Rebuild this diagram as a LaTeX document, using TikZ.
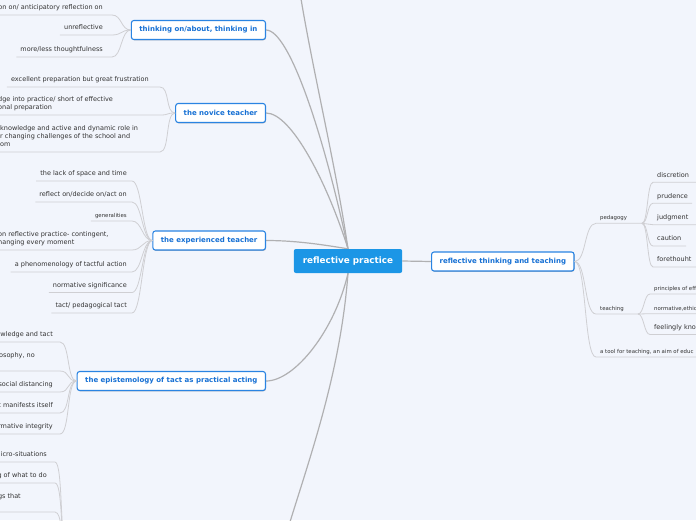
\documentclass[tikz,border=0pt]{standalone}
\usepackage{fontspec}
\setmainfont{DejaVu Sans}
\usetikzlibrary{shadows}
\definecolor{bgc}{HTML}{F2F5FC}
\definecolor{mainblue}{HTML}{1C96E6}
\definecolor{boxblue}{HTML}{2A84E2}
\definecolor{boxtext}{HTML}{1670D4}
\definecolor{leaftext}{HTML}{333333}
\definecolor{leafline}{HTML}{CFCFD3}
\definecolor{mainline}{HTML}{B0B0B2}
\pgfdeclarelayer{back}
\pgfdeclarelayer{lines}
\pgfsetlayers{back,lines,main}
\begin{document}
\begin{tikzpicture}[x=1pt,y=-1pt,
  central/.style={fill=mainblue, text=white, font=\fontsize{8.8}{10}\selectfont\bfseries, rounded corners=2pt, minimum height=24pt, inner xsep=9pt, inner ysep=0pt},
  topic/.style={draw=boxblue, line width=1.1pt, fill=white, text=boxtext, font=\fontsize{7}{8}\selectfont\bfseries, rounded corners=2.5pt, minimum height=19pt, inner xsep=8pt, inner ysep=0pt, drop shadow={shadow xshift=0.5pt, shadow yshift=-0.8pt, opacity=0.25, fill=black}},
  leaf/.style={text=leaftext, font=\fontsize{6.5}{8}\selectfont, inner sep=0pt, text depth=5pt},
  leafs/.style={text=leaftext, font=\fontsize{5.4}{6.5}\selectfont, inner sep=0pt, text depth=3.5pt},
  ml/.style={align=left},
  uline/.style={draw=leafline, line width=0.8pt},
  mline/.style={draw=mainline, line width=1.2pt},
]
\useasboundingbox (0,0) rectangle (696,520);
\clip (0,0) rectangle (696,520);
\begin{pgfonlayer}{back}
\fill[bgc] (0,0) rectangle (696,520);
\end{pgfonlayer}

% central and topics
\node[central] (c) at (348,261) {reflective practice};
\node[topic, anchor=east] (t1) at (266,30) {thinking on/about, thinking in};
\node[topic, anchor=east] (t2) at (266,113) {the novice teacher};
\node[topic, anchor=east] (t3) at (266,240.5) {the experienced teacher};
\node[topic, anchor=east] (t4) at (266,381) {the epistemology of tact as practical acting};
\node[topic, anchor=west] (t5) at (431,261.5) {reflective thinking and teaching};
\coordinate (offtop) at (298,-20);
\coordinate (offbot) at (283,545);

\begin{pgfonlayer}{lines}
\draw[mline] (t1.east) .. controls (290,30) and (325,140) .. (c.north);
\draw[mline] (t2.east) .. controls (292,113) and (328,185) .. (c.north);
\draw[mline] (t3.east) .. controls (300,240.5) and (330,246) .. (c.north);
\draw[mline] (t4.east) .. controls (295,381) and (335,330) .. (c.south);
\draw[mline] (c.north) .. controls (335,160) and (310,60) .. (offtop);
\draw[mline] (c.south) .. controls (340,380) and (305,470) .. (offbot);
\draw[mline] (c.east) -- (t5.west);
\end{pgfonlayer}

% group 1
\coordinate (g1) at (112,0);
\node[leaf, anchor=south east] (a1) at (103,15) {on on/ anticipatory reflection on};
\node[leaf, anchor=south east] (a2) at (103,35) {unreflective};
\node[leaf, anchor=south east] (a3) at (103,57) {more/less thoughtfulness};
\foreach \n in {a1,a2,a3}
  \draw[uline] ([xshift=-4pt]\n.south west) -- (\n.south west -| g1) .. controls +(10,0) and +(-10,0) .. (t1.west);

% group 2
\coordinate (g2) at (160,0);
\node[leaf, anchor=south east] (b1) at (149,87) {excellent preparation but great frustration};
\node[leaf, ml, anchor=south west] (b2) at (-2,115) {dge into practice/ short of effective\\onal preparation};
\node[leaf, ml, anchor=south west] (b3) at (0,152) {knowledge and active and dynamic role in\\r changing challenges of the school and\\om};
\foreach \n in {b1,b2,b3}
  \draw[uline] ([xshift=-4pt]\n.south west) -- (\n.south west -| g2) .. controls +(10,0) and +(-10,0) .. (t2.west);

% group 3
\coordinate (g3) at (132,0);
\node[leaf, anchor=south east] (c1) at (127,181) {the lack of space and time};
\node[leaf, anchor=south east] (c2) at (127,202) {reflect on/decide on/act on};
\node[leafs, anchor=south east] (c3) at (127,221) {generalities};
\node[leaf, ml, anchor=south west] (c4) at (-2,250) {on reflective practice- contingent,\\hanging every moment};
\node[leaf, anchor=south east] (c5) at (127,272) {a phenomenology of tactful action};
\node[leaf, anchor=south east] (c6) at (127,292.5) {normative significance};
\node[leaf, anchor=south east] (c7) at (127,313) {tact/ pedagogical tact};
\foreach \n in {c1,c2,c3,c4,c5,c6,c7}
  \draw[uline] ([xshift=-4pt]\n.south west) -- (\n.south west -| g3) .. controls +(10,0) and +(-10,0) .. (t3.west);

% group 4
\coordinate (g4) at (60,0);
\node[leaf, anchor=south east] (d1) at (53,342) {wledge and tact};
\node[leaf, anchor=south east, text depth=13pt] (d2) at (35,371) {osophy, no};
\node[leaf, anchor=south east] (d3) at (53,392) {social distancing};
\node[leaf, anchor=south east] (d4) at (53,413) {t manifests itself};
\node[leaf, anchor=south east] (d5) at (53,434) {rmative integrity};
\foreach \n in {d1,d2,d3,d4,d5}
  \draw[uline] ([xshift=-4pt]\n.south west) -- (\n.south west -| g4) .. controls +(10,0) and +(-10,0) .. (t4.west);

% group 5 (parent below the picture)
\coordinate (g5) at (55,0);
\coordinate (p5) at (66,545);
\node[leaf, anchor=south east] (e1) at (47,462) {icro-situations};
\node[leaf, anchor=south east] (e2) at (47,483) {g of what to do};
\node[leaf, anchor=south east, text depth=13pt] (e3) at (21,512) {gs that};
\foreach \n in {e1,e2,e3}
  \draw[uline] ([xshift=-4pt]\n.south west) -- (\n.south west -| g5) .. controls +(8,0) and +(-6,0) .. (p5);

% right side
\coordinate (pb) at (642,223.3);
\coordinate (tb) at (638,314);
\coordinate (rend) at (700,0);
\node[leafs, anchor=south west] (ped) at (600,223.3) {pedagogy};
\node[leafs, anchor=south west] (tea) at (600,314) {teaching};
\node[leafs, anchor=south west] (too) at (600,357) {a tool for teaching, an aim of educ};
\draw[uline] (t5.east) .. controls +(12,0) and +(-12,0) .. ([xshift=-4pt]ped.south west) -- (pb);
\draw[uline] (t5.east) .. controls +(12,0) and +(-12,0) .. ([xshift=-4pt]tea.south west) -- (tb);
\draw[uline] (t5.east) .. controls +(12,0) and +(-12,0) .. ([xshift=-4pt]too.south west) -- (too.south west -| rend);

\node[leaf, anchor=south west] (p1) at (657,182.3) {discretion};
\node[leaf, anchor=south west] (p2) at (657,203.3) {prudence};
\node[leaf, anchor=south west] (p3) at (657,224.7) {judgment};
\node[leaf, anchor=south west] (p4) at (657,246) {caution};
\node[leaf, anchor=south west] (p5n) at (657,267) {forethouht};
\coordinate (e692) at (692,0);
\coordinate (e686) at (686,0);
\draw[uline] (pb) .. controls +(6,0) and +(-6,0) .. ([xshift=-4pt]p1.south west) -- (p1.south west -| rend);
\draw[uline] (pb) .. controls +(6,0) and +(-6,0) .. ([xshift=-4pt]p2.south west) -- (p2.south west -| e692);
\draw[uline] (pb) .. controls +(6,0) and +(-6,0) .. ([xshift=-4pt]p3.south west) -- (p3.south west -| rend);
\draw[uline] (pb) .. controls +(6,0) and +(-6,0) .. ([xshift=-4pt]p4.south west) -- (p4.south west -| e686);
\draw[uline] (pb) .. controls +(6,0) and +(-6,0) .. ([xshift=-4pt]p5n.south west) -- (p5n.south west -| rend);

\node[leafs, anchor=south west] (q1) at (654,294) {principles of eff};
\node[leafs, anchor=south west] (q2) at (654,313.7) {normative,ethic};
\node[leaf, anchor=south west] (q3) at (654,334.5) {feelingly kno};
\foreach \n in {q1,q2,q3}
  \draw[uline] (tb) .. controls +(6,0) and +(-6,0) .. ([xshift=-4pt]\n.south west) -- (\n.south west -| rend);
\end{tikzpicture}
\end{document}
